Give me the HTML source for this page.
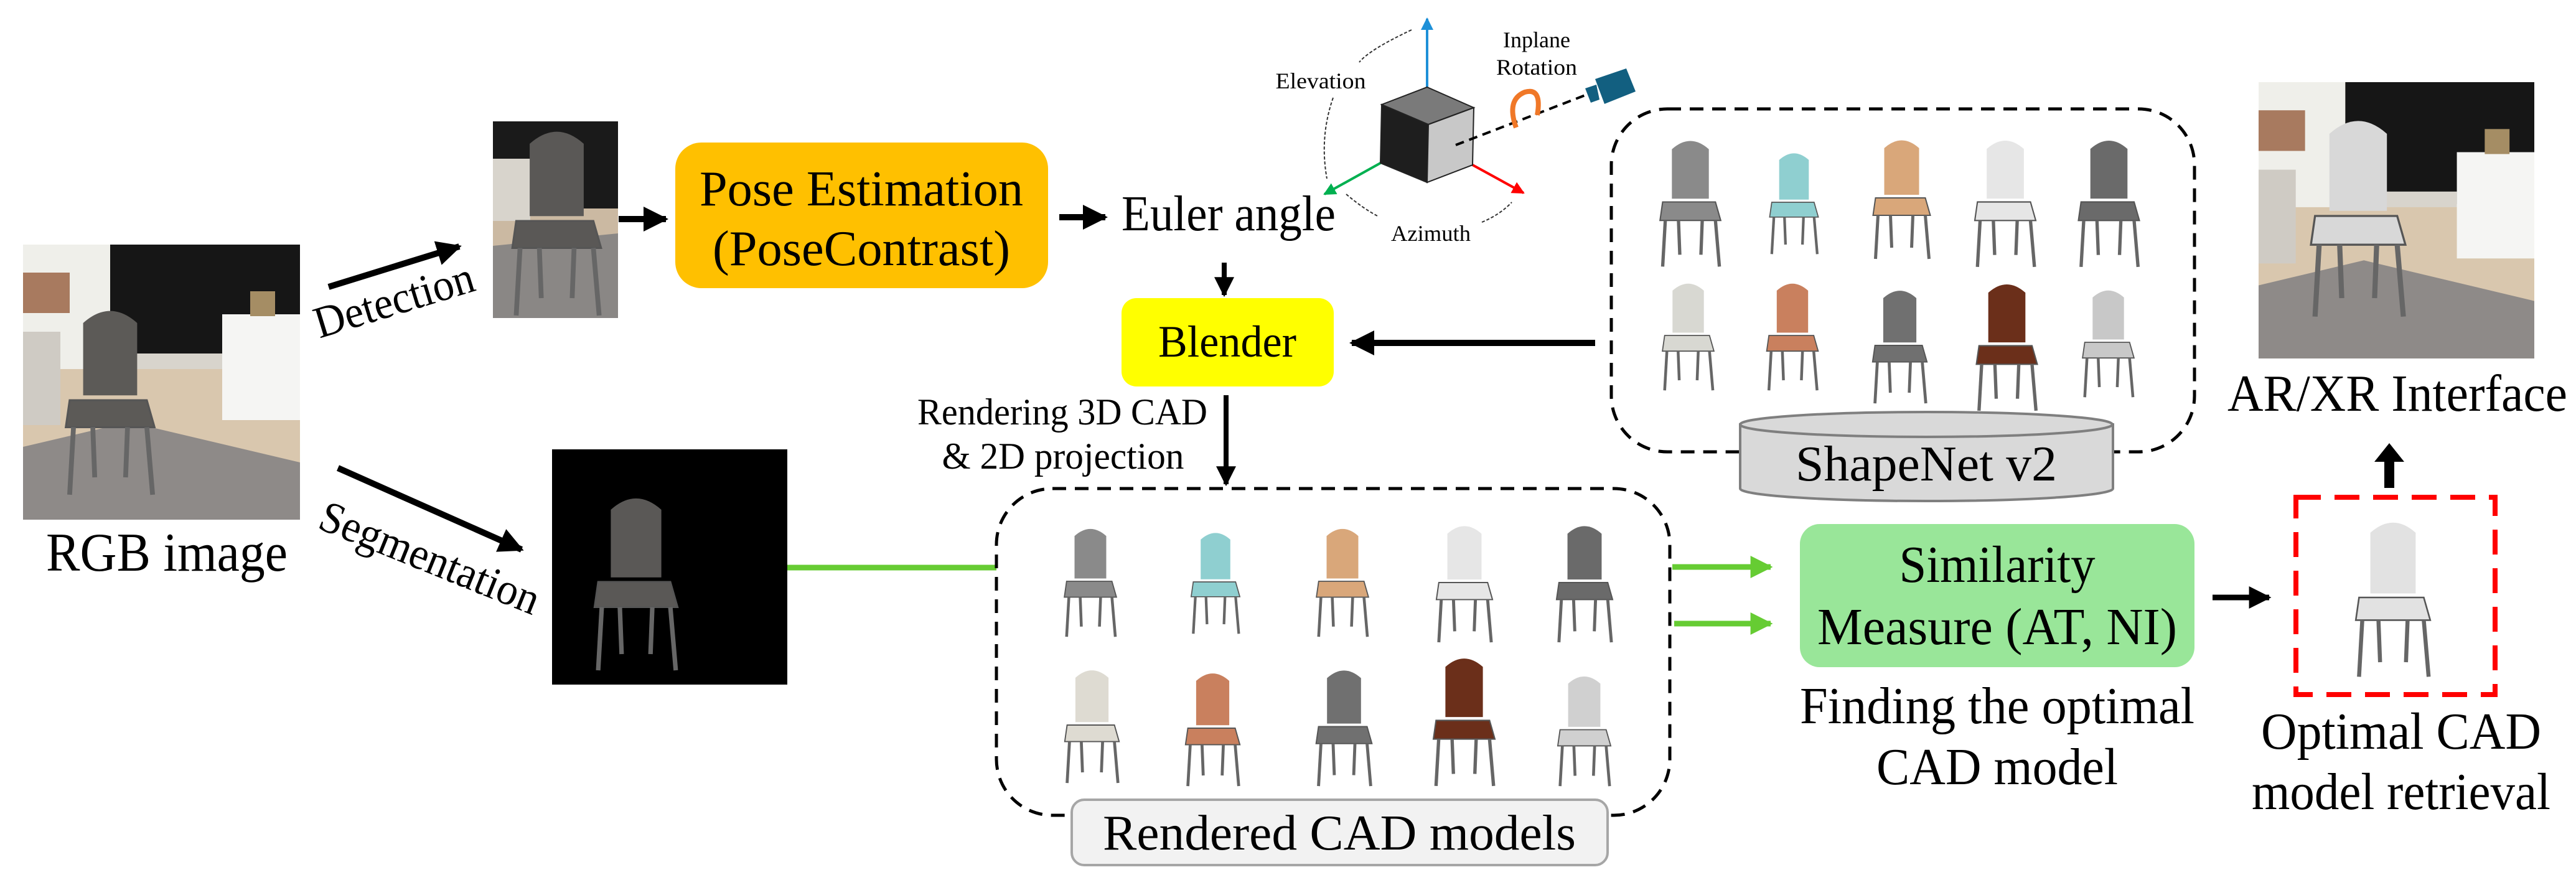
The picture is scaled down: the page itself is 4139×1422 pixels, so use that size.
<!DOCTYPE html>
<html><head><meta charset="utf-8"><style>
html,body{margin:0;padding:0;background:#fff;}
svg{display:block;}
text{font-family:"Liberation Serif","Times New Roman",serif;fill:#000;}
</style></head><body>
<svg width="4139" height="1422" viewBox="0 0 4139 1422" xmlns="http://www.w3.org/2000/svg" font-family="Liberation Serif, serif">
<defs>
<marker id="ah" viewBox="0 0 10 10" refX="9" refY="5" markerWidth="4" markerHeight="4" orient="auto"><path d="M0,0 L10,5 L0,10 z" fill="#000"/></marker>
<marker id="ahg" viewBox="0 0 10 10" refX="9" refY="5" markerWidth="4" markerHeight="4" orient="auto"><path d="M0,0 L10,5 L0,10 z" fill="#66cc33"/></marker>
<marker id="ahb" viewBox="0 0 10 10" refX="9" refY="5" markerWidth="5" markerHeight="5" orient="auto"><path d="M0,0 L10,5 L0,10 z" fill="#1e90d8"/></marker>
<marker id="ahgr" viewBox="0 0 10 10" refX="9" refY="5" markerWidth="5" markerHeight="5" orient="auto"><path d="M0,0 L10,5 L0,10 z" fill="#00b050"/></marker>
<marker id="ahr" viewBox="0 0 10 10" refX="9" refY="5" markerWidth="5" markerHeight="5" orient="auto"><path d="M0,0 L10,5 L0,10 z" fill="#ff0000"/></marker>
<symbol id="chair" viewBox="0 0 100 200">
  <path d="M22,95 L22,20 Q50,-5 78,20 L78,95 Z" fill="currentColor"/>
  <path d="M8,100 L88,100 L96,128 L4,128 Z" fill="currentColor" stroke="#555" stroke-width="2"/>
  <g stroke="#666" stroke-width="5" fill="none"><path d="M12,128 L8,198"/><path d="M88,128 L94,198"/><path d="M32,128 L34,180"/><path d="M68,128 L66,180"/></g>
</symbol>
<symbol id="room" viewBox="0 0 445 442" preserveAspectRatio="none">
  <rect x="0" y="0" width="445" height="442" fill="#d9c7ae"/>
  <rect x="0" y="0" width="140" height="200" fill="#efefea"/>
  <rect x="140" y="0" width="305" height="195" fill="#161616"/>
  <rect x="140" y="175" width="180" height="25" fill="#d8d4cc"/>
  <rect x="320" y="112" width="125" height="170" fill="#f5f5f3"/>
  <rect x="0" y="140" width="60" height="150" fill="#cfcbc4"/>
  <rect x="0" y="45" width="75" height="65" fill="#a87a5f"/>
  <rect x="365" y="75" width="40" height="40" fill="#a58d64"/>
  <path d="M0,325 L170,285 L445,350 L445,442 L0,442 Z" fill="#8e8a88"/>
</symbol>
</defs>

<!-- RGB image -->
<svg x="37" y="393" width="445" height="442"><use href="#room" width="445" height="442"/>
  <use href="#chair" x="50" y="95" width="180" height="310" color="#5c5a57"/></svg>
<text x="268" y="917" font-size="88" text-anchor="middle" textLength="388" lengthAdjust="spacingAndGlyphs">RGB image</text>

<!-- Detection crop -->
<svg x="792" y="195" width="201" height="316" viewBox="0 0 201 316" preserveAspectRatio="none">
  <rect width="201" height="316" fill="#cbb9a2"/>
  <rect width="201" height="140" fill="#1a1a1a"/>
  <rect x="0" y="60" width="60" height="100" fill="#d8d4cc"/>
  <path d="M0,200 L201,180 L201,316 L0,316 Z" fill="#8a8785"/>
  <use href="#chair" x="5" y="5" width="195" height="310" color="#5a5856"/>
</svg>

<!-- Detection arrow -->
<line x1="528" y1="461" x2="738" y2="396" stroke="#000" stroke-width="10" marker-end="url(#ah)"/>
<text transform="translate(640,505) rotate(-17)" font-size="72" text-anchor="middle" textLength="265" lengthAdjust="spacingAndGlyphs">Detection</text>

<!-- Segmentation arrow -->
<line x1="543" y1="752" x2="838" y2="883" stroke="#000" stroke-width="10" marker-end="url(#ah)"/>
<text transform="translate(508,848) rotate(22)" font-size="72" textLength="375" lengthAdjust="spacingAndGlyphs">Segmentation</text>

<!-- Seg image -->
<rect x="887" y="722" width="378" height="378" fill="#000"/>
<use href="#chair" x="922" y="790" width="200" height="290" color="#5a5856"/>

<!-- Green line -->
<line x1="1265" y1="912" x2="1601" y2="912" stroke="#66cc33" stroke-width="9"/>

<!-- crop -> pose -->
<line x1="994" y1="352" x2="1070" y2="352" stroke="#000" stroke-width="10" marker-end="url(#ah)"/>

<!-- Pose box -->
<rect x="1085" y="229" width="599" height="234" rx="42" fill="#ffc000"/>
<text x="1384" y="330" font-size="80" text-anchor="middle" textLength="520" lengthAdjust="spacingAndGlyphs">Pose Estimation</text>
<text x="1384" y="426" font-size="80" text-anchor="middle" textLength="478" lengthAdjust="spacingAndGlyphs">(PoseContrast)</text>

<!-- pose -> Euler -->
<line x1="1702" y1="349" x2="1776" y2="349" stroke="#000" stroke-width="10" marker-end="url(#ah)"/>
<text x="1802" y="370" font-size="80" textLength="344" lengthAdjust="spacingAndGlyphs">Euler angle</text>

<!-- Euler -> Blender -->
<line x1="1967" y1="422" x2="1967" y2="474" stroke="#000" stroke-width="8" marker-end="url(#ah)"/>
<rect x="1802" y="479" width="341" height="142" rx="24" fill="#ffff00"/>
<text x="1972" y="573" font-size="72" text-anchor="middle" textLength="222" lengthAdjust="spacingAndGlyphs">Blender</text>

<!-- ShapeNet -> Blender -->
<line x1="2563" y1="551" x2="2172" y2="551" stroke="#000" stroke-width="10" marker-end="url(#ah)"/>

<!-- Rendering text -->
<text x="1707" y="682" font-size="60" text-anchor="middle" textLength="466" lengthAdjust="spacingAndGlyphs">Rendering 3D CAD</text>
<text x="1708" y="753" font-size="60" text-anchor="middle" textLength="389" lengthAdjust="spacingAndGlyphs">&amp; 2D projection</text>
<line x1="1970" y1="635" x2="1970" y2="778" stroke="#000" stroke-width="8" marker-end="url(#ah)"/>

<!-- Rendered box -->
<rect x="1601" y="785" width="1082" height="525" rx="90" fill="none" stroke="#000" stroke-width="5" stroke-dasharray="22,14"/>
<use href="#chair" x="1682" y="843" width="140" height="182" color="#8a8a8a"/>
<use href="#chair" x="1876" y="850" width="154" height="170" color="#8fcfd0"/>
<use href="#chair" x="2097" y="843" width="120" height="182" color="#d9a77a"/>
<use href="#chair" x="2290" y="838" width="126" height="196" color="#e6e6e6"/>
<use href="#chair" x="2483" y="838" width="126" height="196" color="#6a6a6a"/>
<use href="#chair" x="1682" y="1070" width="145" height="190" color="#dedbd2"/>
<use href="#chair" x="1876" y="1075" width="145" height="190" color="#c9805e"/>
<use href="#chair" x="2097" y="1070" width="125" height="195" color="#707070"/>
<use href="#chair" x="2290" y="1050" width="125" height="215" color="#6b2f1a"/>
<use href="#chair" x="2483" y="1080" width="125" height="185" color="#d0d0d0"/>
<rect x="1722" y="1285" width="861" height="105" rx="20" fill="#f2f2f2" stroke="#a6a6a6" stroke-width="4"/>
<text x="2152" y="1365" font-size="80" text-anchor="middle" textLength="760" lengthAdjust="spacingAndGlyphs">Rendered CAD models</text>

<!-- Pose diagram -->
<path d="M2268,48 Q2200,80 2184,100" fill="none" stroke="#333" stroke-width="2" stroke-dasharray="5,3"/>
<path d="M2142,157 Q2120,220 2132,287" fill="none" stroke="#333" stroke-width="2" stroke-dasharray="5,3"/>
<path d="M2163,312 Q2190,335 2215,348" fill="none" stroke="#333" stroke-width="2" stroke-dasharray="5,3"/>
<path d="M2381,357 Q2410,345 2429,325" fill="none" stroke="#333" stroke-width="2" stroke-dasharray="5,3"/>
<line x1="2293" y1="140" x2="2293" y2="30" stroke="#1e90d8" stroke-width="4" marker-end="url(#ahb)"/>
<line x1="2218" y1="262" x2="2128" y2="312" stroke="#00b050" stroke-width="4" marker-end="url(#ahgr)"/>
<line x1="2366" y1="265" x2="2448" y2="310" stroke="#ff0000" stroke-width="4" marker-end="url(#ahr)"/>
<path d="M2293,140 L2368,173 L2295,200 L2220,168 Z" fill="#7a7a7a" stroke="#222" stroke-width="2"/>
<path d="M2220,168 L2295,200 L2293,293 L2218,262 Z" fill="#1e1e1e" stroke="#222" stroke-width="2"/>
<path d="M2295,200 L2368,173 L2366,265 L2293,293 Z" fill="#c8c8c8" stroke="#222" stroke-width="2"/>
<line x1="2339" y1="233" x2="2547" y2="153" stroke="#000" stroke-width="4" stroke-dasharray="14,9"/>
<path d="M2563,127 L2613,110 L2628,147 L2578,167 Z" fill="#125f80"/>
<path d="M2547,142 L2565,136 L2570,160 L2556,165 Z" fill="#125f80"/>
<path d="M2436,205 Q2420,160 2450,148 Q2478,140 2470,185" fill="none" stroke="#f07828" stroke-width="8"/>
<text x="2122" y="142" font-size="36" text-anchor="middle" textLength="145" lengthAdjust="spacingAndGlyphs">Elevation</text>
<text x="2469" y="76" font-size="36" text-anchor="middle" textLength="108" lengthAdjust="spacingAndGlyphs">Inplane</text>
<text x="2469" y="120" font-size="36" text-anchor="middle" textLength="130" lengthAdjust="spacingAndGlyphs">Rotation</text>
<text x="2299" y="387" font-size="36" text-anchor="middle" textLength="128" lengthAdjust="spacingAndGlyphs">Azimuth</text>

<!-- ShapeNet box -->
<rect x="2589" y="175" width="937" height="551" rx="90" fill="none" stroke="#000" stroke-width="5" stroke-dasharray="22,14"/>
<use href="#chair" x="2663" y="218" width="106" height="213" color="#8a8a8a"/>
<use href="#chair" x="2803" y="240" width="159" height="170" color="#8fcfd0"/>
<use href="#chair" x="2989" y="218" width="133" height="200" color="#d9a77a"/>
<use href="#chair" x="3162" y="218" width="120" height="213" color="#e6e6e6"/>
<use href="#chair" x="3322" y="218" width="133" height="213" color="#6a6a6a"/>
<use href="#chair" x="2640" y="449" width="145" height="180" color="#d8d8d2"/>
<use href="#chair" x="2815" y="449" width="130" height="180" color="#c9805e"/>
<use href="#chair" x="2990" y="460" width="125" height="190" color="#707070"/>
<use href="#chair" x="3162" y="449" width="125" height="213" color="#6b2f1a"/>
<use href="#chair" x="3320" y="460" width="135" height="180" color="#c8c8c8"/>
<!-- cylinder -->
<path d="M2796,682 L2796,785 A299,20 0 0 0 3395,785 L3395,682 Z" fill="#d9d9d9" stroke="#7f7f7f" stroke-width="4"/>
<ellipse cx="3095" cy="682" rx="299" ry="20" fill="#d9d9d9" stroke="#7f7f7f" stroke-width="4"/>
<text x="3095" y="772" font-size="80" text-anchor="middle" textLength="420" lengthAdjust="spacingAndGlyphs">ShapeNet v2</text>

<!-- green arrows -->
<line x1="2687" y1="911" x2="2845" y2="911" stroke="#66cc33" stroke-width="9" marker-end="url(#ahg)"/>
<line x1="2690" y1="1002" x2="2845" y2="1002" stroke="#66cc33" stroke-width="9" marker-end="url(#ahg)"/>

<!-- similarity -->
<rect x="2892" y="842" width="634" height="230" rx="32" fill="#99e699"/>
<text x="3209" y="935" font-size="84" text-anchor="middle" textLength="315" lengthAdjust="spacingAndGlyphs">Similarity</text>
<text x="3209" y="1035" font-size="84" text-anchor="middle" textLength="578" lengthAdjust="spacingAndGlyphs">Measure (AT, NI)</text>
<text x="3209" y="1162" font-size="84" text-anchor="middle" textLength="634" lengthAdjust="spacingAndGlyphs">Finding the optimal</text>
<text x="3209" y="1260" font-size="84" text-anchor="middle" textLength="388" lengthAdjust="spacingAndGlyphs">CAD model</text>

<line x1="3555" y1="960" x2="3646" y2="960" stroke="#000" stroke-width="9" marker-end="url(#ah)"/>

<!-- red box -->
<rect x="3689" y="799" width="320" height="317" fill="none" stroke="#ff0000" stroke-width="8" stroke-dasharray="40,22"/>
<use href="#chair" x="3755" y="830" width="180" height="260" color="#e2e2e2"/>
<text x="3858" y="1203" font-size="84" text-anchor="middle" textLength="450" lengthAdjust="spacingAndGlyphs">Optimal CAD</text>
<text x="3858" y="1300" font-size="84" text-anchor="middle" textLength="480" lengthAdjust="spacingAndGlyphs">model retrieval</text>

<!-- up arrow -->
<rect x="3831" y="740" width="16" height="44" fill="#000"/>
<path d="M3815,742 L3839,712 L3863,742 Z" fill="#000"/>

<!-- AR image -->
<svg x="3629" y="132" width="443" height="444"><use href="#room" width="443" height="444"/>
  <use href="#chair" x="40" y="50" width="240" height="330" color="#d8d8d8"/></svg>
<text x="3852" y="660" font-size="84" text-anchor="middle" textLength="546" lengthAdjust="spacingAndGlyphs">AR/XR Interface</text>
</svg>
</body></html>
